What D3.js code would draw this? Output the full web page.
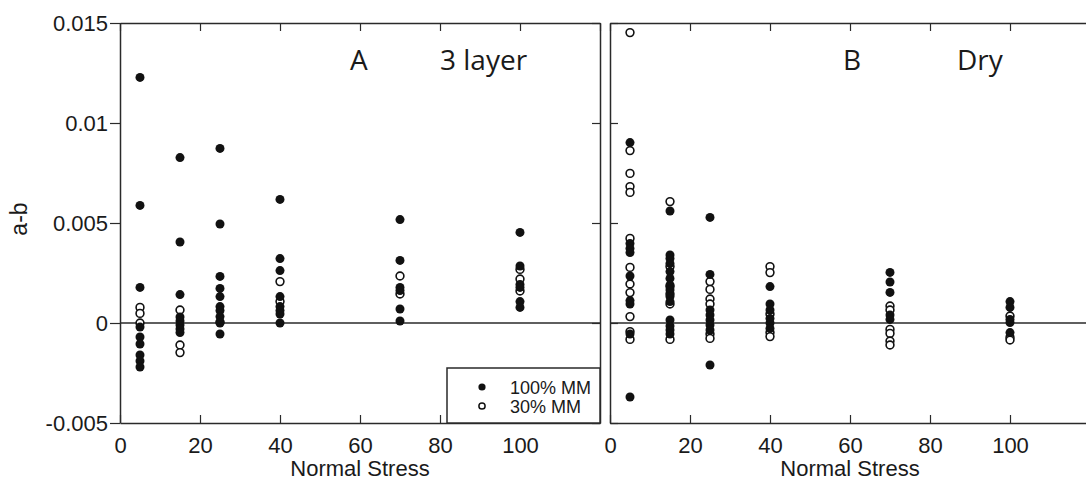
<!DOCTYPE html>
<html>
<head>
<meta charset="utf-8">
<script src="https://cdn.jsdelivr.net/npm/d3@7"></script>
<style>
  html, body { margin: 0; padding: 0; background: #fff; }
  svg { display: block; }
</style>
</head>
<body>
<svg id="chart" width="1086" height="491"></svg>
<script>
// Normal stress levels and rate dependence (a-b) values, [stress, a-b]
const threeLayer100 = [
  [5, 0.01228], [5, 0.00588], [5, 0.00178], [5, -0.0002], [5, -0.0007], [5, -0.00105], [5, -0.0016], [5, -0.0019], [5, -0.0022],
  [15, 0.00827], [15, 0.00405], [15, 0.00142], [15, 0.0003], [15, 0.0001], [15, -0.0001], [15, -0.0003], [15, -0.00048],
  [25, 0.00873], [25, 0.00495], [25, 0.00233], [25, 0.00173], [25, 0.00132], [25, 0.00082], [25, 0.00062], [25, 0.00032], [25, 0.0], [25, -0.00055],
  [40, 0.00618], [40, 0.00322], [40, 0.00262], [40, 0.00132], [40, 0.00082], [40, 0.00062], [40, 0.00045], [40, 0.0],
  [70, 0.00517], [70, 0.00313], [70, 0.00178], [70, 0.00162], [70, 0.0007], [70, 0.0001],
  [100, 0.00453], [100, 0.00285], [100, 0.00193], [100, 0.00178], [100, 0.00107], [100, 0.00078]
];
const threeLayer30 = [
  [5, 0.00078], [5, 0.00048], [5, 0.0],
  [15, 0.00065], [15, -0.0011], [15, -0.00148],
  [25, 0.00005],
  [40, 0.00207], [40, 0.00107],
  [70, 0.00235], [70, 0.00145],
  [100, 0.00268], [100, 0.0022], [100, 0.0016]
];
const dry100 = [
  [5, 0.00902], [5, 0.00398], [5, 0.00373], [5, 0.00352], [5, 0.00235], [5, 0.00112], [5, 0.00095], [5, -0.00055], [5, -0.0037],
  [15, 0.0056], [15, 0.0034], [15, 0.00323], [15, 0.00298], [15, 0.00257], [15, 0.00223], [15, 0.0019], [15, 0.00165], [15, 0.00132], [15, 0.00107], [15, 0.00015], [15, -0.00015], [15, -0.00035], [15, -0.00055],
  [25, 0.00528], [25, 0.00243], [25, 0.00065], [25, 0.0004], [25, 0.00015], [25, -0.0001], [25, -0.00035], [25, -0.0021],
  [40, 0.00182], [40, 0.00095], [40, 0.00065], [40, 0.00023], [40, 0.0], [40, -0.00027],
  [70, 0.00253], [70, 0.00205], [70, 0.00153], [70, 0.0004], [70, 0.00018],
  [100, 0.00107], [100, 0.00078], [100, 0.00018], [100, 0.00002], [100, -0.00048]
];
const dry30 = [
  [5, 0.01452], [5, 0.00862], [5, 0.00748], [5, 0.00682], [5, 0.00653], [5, 0.00423], [5, 0.00278], [5, 0.00195], [5, 0.00152], [5, 0.00032], [5, -0.00043], [5, -0.00082],
  [15, 0.00607], [15, 0.00282], [15, 0.00182], [15, 0.00145], [15, 0.00095], [15, -0.00082],
  [25, 0.00207], [25, 0.00168], [25, 0.0012], [25, 0.00095], [25, -0.00055], [25, -0.00077],
  [40, 0.00282], [40, 0.00252], [40, 0.00045], [40, -0.00048], [40, -0.00068],
  [70, 0.00085], [70, 0.00065], [70, -0.00032], [70, -0.00052], [70, -0.0009], [70, -0.0011],
  [100, 0.00035], [100, -0.00072], [100, -0.00085]
];
const xTicks = [0, 20, 40, 60, 80, 100];
const yTicks = [-0.005, 0, 0.005, 0.01, 0.015];
const yTickLabels = ["-0.005", "0", "0.005", "0.01", "0.015"];
const legendLabels = ["100% MM", "30% MM"];

const ink = "#2a2a2a";
const svg = d3.select("#chart");
const plotTop = 23, plotBottom = 423;
const y = d3.scaleLinear().domain([-0.005, 0.015]).range([plotBottom, plotTop]);

const panels = [
  { left: 120, right: 600, letter: "A", tag: "3 layer", letterX: 350, tagX: 440, full: threeLayer100, open: threeLayer30, yLabels: true, rightEdge: true },
  { left: 610, right: 1090, letter: "B", tag: "Dry", letterX: 843, tagX: 957, full: dry100, open: dry30, yLabels: false, rightEdge: false }
];

function styleAxis(g) {
  g.selectAll("path").attr("stroke", ink).attr("stroke-width", 1.5);
  g.selectAll("line").attr("stroke", ink).attr("stroke-width", 1.2);
  g.selectAll("text").attr("fill", "#1a1a1a").attr("font-family", "'Liberation Sans', Arial, sans-serif").attr("font-size", 22);
}

panels.forEach(p => {
  const x = d3.scaleLinear().domain([0, 120]).range([p.left, p.right]);
  const g = svg.append("g");

  // zero reference line
  g.append("line")
    .attr("x1", p.left).attr("x2", p.right)
    .attr("y1", y(0)).attr("y2", y(0))
    .attr("stroke", ink).attr("stroke-width", 1.3);

  // bottom axis, ticks pointing inward
  g.append("g").attr("transform", `translate(0,${plotBottom})`)
    .call(d3.axisBottom(x).tickValues(xTicks).tickFormat(d3.format("d")).tickSize(-8).tickSizeOuter(0).tickPadding(14))
    .call(styleAxis);

  // top frame with inward ticks
  g.append("g").attr("transform", `translate(0,${plotTop})`)
    .call(d3.axisTop(x).tickValues(xTicks.concat([120])).tickFormat("").tickSize(-8).tickSizeOuter(0))
    .call(styleAxis);

  // left axis
  const leftAxis = p.yLabels
    ? d3.axisLeft(y).tickValues(yTicks).tickFormat((d, i) => yTickLabels[i]).tickSize(10).tickPadding(2).tickSizeOuter(0)
    : d3.axisLeft(y).tickValues(yTicks).tickFormat("").tickSize(-8).tickSizeOuter(0);
  g.append("g").attr("transform", `translate(${p.left},0)`).call(leftAxis).call(styleAxis);

  if (p.rightEdge) {
    g.append("g").attr("transform", `translate(${p.right},0)`)
      .call(d3.axisRight(y).tickValues(yTicks).tickFormat("").tickSize(-8).tickSizeOuter(0))
      .call(styleAxis);
  }

  // 30% MM (open circles)
  g.append("g").selectAll("circle").data(p.open).join("circle")
    .attr("cx", d => x(d[0])).attr("cy", d => y(d[1])).attr("r", 3.9)
    .attr("fill", "#fff").attr("stroke", "#111").attr("stroke-width", 1.6);

  // 100% MM (filled circles)
  g.append("g").selectAll("circle").data(p.full).join("circle")
    .attr("cx", d => x(d[0])).attr("cy", d => y(d[1])).attr("r", 4.5)
    .attr("fill", "#111");

  // panel labels
  g.append("text").attr("x", p.letterX).attr("y", 70).text(p.letter)
    .attr("font-family", "'Open Sans', 'Noto Sans', sans-serif").attr("font-size", 28).attr("fill", "#1a1a1a");
  g.append("text").attr("x", p.tagX).attr("y", 70).text(p.tag)
    .attr("font-family", "'Open Sans', 'Noto Sans', sans-serif").attr("font-size", 28).attr("fill", "#1a1a1a");

  // x-axis title
  g.append("text").attr("x", (p.left + p.right) / 2).attr("y", 476)
    .attr("text-anchor", "middle").text("Normal Stress")
    .attr("font-family", "'Liberation Sans', Arial, sans-serif").attr("font-size", 22).attr("fill", "#1a1a1a");
});

// y-axis title
svg.append("text")
  .attr("transform", "translate(27,219) rotate(-90)")
  .attr("text-anchor", "middle").text("a-b")
  .attr("font-family", "'Liberation Sans', Arial, sans-serif").attr("font-size", 23).attr("fill", "#1a1a1a");

// legend for panel A
const legend = svg.append("g");
legend.append("rect").attr("x", 447).attr("y", 368).attr("width", 153).attr("height", 55)
  .attr("fill", "#fff").attr("stroke", ink).attr("stroke-width", 1.5);
legendLabels.forEach((label, i) => {
  const cy = 387 + i * 19;
  if (i === 0) {
    legend.append("circle").attr("cx", 482).attr("cy", cy).attr("r", 3.6).attr("fill", "#111");
  } else {
    legend.append("circle").attr("cx", 482).attr("cy", cy).attr("r", 3.1)
      .attr("fill", "#fff").attr("stroke", "#111").attr("stroke-width", 1.5);
  }
  legend.append("text").attr("x", 510).attr("y", cy + 6.5).text(label)
    .attr("font-family", "'Liberation Sans', Arial, sans-serif").attr("font-size", 18).attr("fill", "#1a1a1a");
});
</script>
</body>
</html>
